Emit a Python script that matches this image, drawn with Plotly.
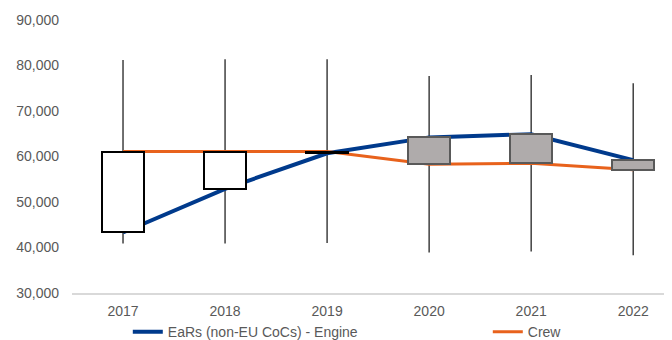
import plotly.graph_objects as go

years = ["2017", "2018", "2019", "2020", "2021", "2022"]
engine = [43300, 52900, 60700, 64200, 64900, 59200]
crew = [61100, 61100, 61100, 58300, 58500, 57100]
high = [81200, 81400, 81400, 77700, 77900, 76100]
low = [40900, 40900, 41000, 38900, 39100, 38300]

BLUE = "#003A8C"
ORANGE = "#E8621C"

fig = go.Figure()

# high-low whiskers
wx, wy = [], []
for yr, lo, hi in zip(years, low, high):
    wx += [yr, yr, None]
    wy += [lo, hi, None]
fig.add_trace(go.Scatter(x=wx, y=wy, mode="lines",
                         line=dict(color="#404040", width=1.5),
                         showlegend=False, hoverinfo="skip"))

fig.add_trace(go.Scatter(x=years, y=engine, mode="lines", name="EaRs (non-EU CoCs) - Engine",
                         line=dict(color=BLUE, width=4), legend="legend"))
fig.add_trace(go.Scatter(x=years, y=crew, mode="lines", name="Crew",
                         line=dict(color=ORANGE, width=3), legend="legend2"))

# up / down bars between the two series, on an overlay axis so they sit on top
up = [c >= e for e, c in zip(engine, crew)]
fig.add_trace(go.Bar(
    x=years,
    y=[abs(c - e) for e, c in zip(engine, crew)],
    base=[min(e, c) for e, c in zip(engine, crew)],
    width=0.41,
    marker=dict(color=["white" if u else "#AFABAB" for u in up],
                line=dict(color=["black" if u else "#595959" for u in up], width=2)),
    xaxis="x2", yaxis="y2",
    showlegend=False, hoverinfo="skip"))

xr = [-0.5, 5.38]
yr_ = [30000, 90000]

leg = dict(orientation="h", xanchor="left", yref="container", y=0.072, yanchor="top",
           font=dict(size=14), bgcolor="rgba(0,0,0,0)")

# page body has an 8px margin, so the figure is sized/offset to compensate
fig.update_layout(
    width=664, height=332,
    margin=dict(l=64, r=0, t=12, b=47),
    plot_bgcolor="white", paper_bgcolor="white",
    font=dict(family="Liberation Sans, Arial", size=14, color="#595959"),
    xaxis=dict(type="category", range=xr, showgrid=False, automargin=False,
               showline=True, linecolor="#D9D9D9", linewidth=1.5, ticks="",
               ticklabelstandoff=4),
    yaxis=dict(range=yr_, dtick=10000, tickformat=",", showgrid=False, automargin=False,
               zeroline=False, ticks="", ticklabelstandoff=12),
    xaxis2=dict(type="category", range=xr, overlaying="x", visible=False,
                categoryorder="array", categoryarray=years),
    yaxis2=dict(range=yr_, overlaying="y", visible=False),
    legend=dict(leg, x=0.093),
    legend2=dict(leg, x=0.693),
    bargap=0,
)

fig.write_html("out.html")
